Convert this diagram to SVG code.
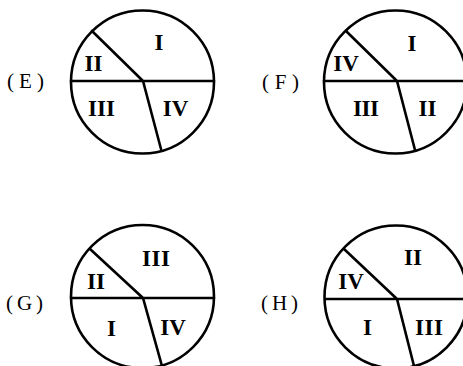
<svg xmlns="http://www.w3.org/2000/svg" width="463" height="366" viewBox="0 0 463 366">
<style>
.c{fill:none;stroke:#000;stroke-width:2.6}
.l{fill:none;stroke:#000;stroke-width:2.6;stroke-linecap:round}
.t{font-family:"Liberation Serif",serif;font-size:23px;font-weight:bold;fill:#000;text-anchor:middle}
.lab{font-family:"Liberation Serif",serif;font-size:21px;fill:#000}
</style>
<rect width="463" height="366" fill="#fff"/>
<g id="E">
<circle class="c" cx="142.5" cy="82" r="71.5"/>
<text class="lab" x="7" y="88" textLength="37" lengthAdjust="spacing">(E)</text>
<text class="t" x="159" y="50">I</text>
<text class="t" x="93.5" y="71">II</text>
<text class="t" x="101.5" y="116" textLength="27" lengthAdjust="spacing">III</text>
<text class="t" x="175.5" y="116">IV</text>
</g>
<g id="F">
<circle class="c" cx="395.5" cy="82" r="71.5"/>
<text class="lab" x="262" y="89" textLength="37" lengthAdjust="spacing">(F)</text>
<text class="t" x="412" y="51">I</text>
<text class="t" x="346" y="71">IV</text>
<text class="t" x="366" y="116" textLength="26" lengthAdjust="spacing">III</text>
<text class="t" x="427.5" y="116">II</text>
</g>
<g id="G">
<circle class="c" cx="142.5" cy="296.5" r="71.5"/>
<text class="lab" x="6" y="310" textLength="37" lengthAdjust="spacing">(G)</text>
<text class="t" x="156" y="266" textLength="28" lengthAdjust="spacing">III</text>
<text class="t" x="96" y="289">II</text>
<text class="t" x="111.5" y="336">I</text>
<text class="t" x="173" y="335">IV</text>
</g>
<g id="H">
<circle class="c" cx="396" cy="297" r="71.5"/>
<text class="lab" x="261" y="310" textLength="37" lengthAdjust="spacing">(H)</text>
<text class="t" x="413" y="265">II</text>
<text class="t" x="351" y="289">IV</text>
<text class="t" x="367.5" y="335">I</text>
<text class="t" x="429" y="335" textLength="28" lengthAdjust="spacing">III</text>
</g>
<g id="connectors">
<path class="l" d="M71 81H214M92 31L143 81L161 149"/>
<path class="l" d="M324 81H463M346 31L397 81L415 150"/>
<path class="l" d="M71 298H214M90 249L143 298L162 366"/>
<path class="l" d="M325 299H463M344 249L397 299L414 366"/>
</g>
</svg>
